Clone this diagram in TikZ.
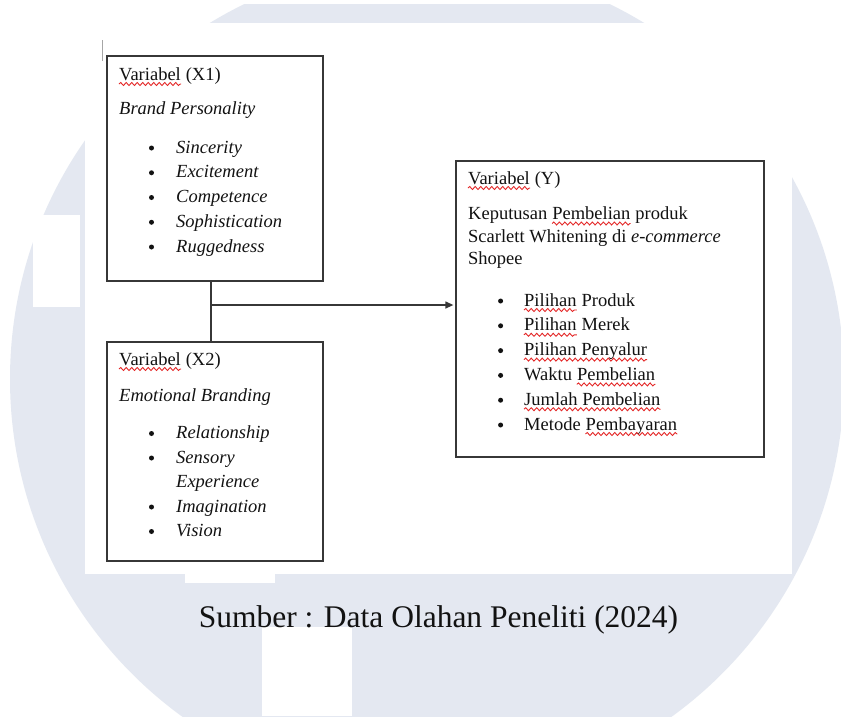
\documentclass[tikz,border=0pt]{standalone}
\usepackage{fontspec}
\setmainfont{Liberation Serif}
\usetikzlibrary{arrows.meta,decorations.pathmorphing}

\definecolor{wmark}{RGB}{228,232,241}
\definecolor{wavered}{RGB}{228,40,40}
\definecolor{ink}{RGB}{18,18,18}
\definecolor{frame}{RGB}{55,55,55}

\begin{document}
\begin{tikzpicture}[x=1pt,y=-1pt,
  txt/.style={anchor=base west, inner sep=0pt, text=ink, font=\fontsize{18.5}{22}\selectfont},
  ittxt/.style={anchor=base west, inner sep=0pt, text=ink, font=\fontsize{18.5}{22}\selectfont\itshape},
  dot/.style={circle, fill=ink, inner sep=0pt, minimum size=5pt},
  varbox/.style={draw=frame, line width=1.3pt, inner sep=0pt},
  link/.style={draw=frame, line width=1.3pt},
  wave/.style={draw=wavered, line width=0.9pt, decorate,
    decoration={snake, amplitude=1.5pt, segment length=5.5pt}}]

\def\sp{4.6pt}% inter-word space of the box text
\newcommand\underwave[1]{\draw[wave] ([yshift=-4pt]#1.base west) -- ([yshift=-4pt]#1.base east);}

\useasboundingbox (0,0) rectangle (841,716);

% watermark backdrop
\fill[white] (0,0) rectangle (841,716);
\begin{scope}
  \clip (0,0) rectangle (841,716);
  \fill[wmark] (427,379) circle[radius=417pt];
\end{scope}
\fill[white] (0,0) rectangle (841,4);
\fill[white] (33,215) rectangle (80,307);
\fill[white] (185,574) rectangle (275,583);
\fill[white] (262,627) rectangle (352,716);
\fill[white] (85,23) rectangle (792,574);
\draw[black!35, line width=0.9pt] (102,40) -- (102,61);

% variable boxes
\node[varbox, minimum width=216pt, minimum height=225pt] (x1box) at (215,168.5) {};
\node[varbox, minimum width=216pt, minimum height=219pt] (x2box) at (215,451.5) {};
\node[varbox, minimum width=308pt, minimum height=296pt] (ybox) at (610,309) {};

% X1 contents
\node[txt] (x1w) at (119,80) {Variabel};
\node[txt] (x1t) at ([xshift=\sp]x1w.base east) {(X1)};
\underwave{x1w}
\node[ittxt] (x1n) at (119,114) {Brand Personality};
\foreach \k/\w [count=\i from 0] in {a/Sincerity,b/Excitement,c/Competence,d/Sophistication,e/Ruggedness}{
  \node[dot] (x1d\k) at (151.5,{148+24.75*\i}) {};
  \node[ittxt] (x1i\k) at (176,{153+24.75*\i}) {\w};
}

% X2 contents
\node[txt] (x2w) at (119,365) {Variabel};
\node[txt] (x2t) at ([xshift=\sp]x2w.base east) {(X2)};
\underwave{x2w}
\node[ittxt] (x2n) at (119,401) {Emotional Branding};
\node[dot] (x2da) at (151.5,433.5) {};
\node[ittxt] (x2ia) at (176,438.5) {Relationship};
\node[dot] (x2db) at (151.5,458) {};
\node[ittxt] (x2ib) at (176,463) {Sensory};
\node[ittxt] (x2ic) at (176,487.5) {Experience};
\node[dot] (x2dd) at (151.5,507) {};
\node[ittxt] (x2id) at (176,512) {Imagination};
\node[dot] (x2de) at (151.5,531.5) {};
\node[ittxt] (x2ie) at (176,536.5) {Vision};

% Y contents
\node[txt] (yw) at (468,184) {Variabel};
\node[txt] (yt) at ([xshift=\sp]yw.base east) {(Y)};
\underwave{yw}
\node[txt] (yn1a) at (468,219.5) {Keputusan};
\node[txt] (yn1b) at ([xshift=\sp]yn1a.base east) {Pembelian};
\node[txt] (yn1c) at ([xshift=\sp]yn1b.base east) {produk};
\underwave{yn1b}
\node[txt] (yn2) at (468,242) {Scarlett Whitening di \textit{e-commerce}};
\node[txt] (yn3) at (468,264.5) {Shopee};

\foreach \k [count=\i from 0] in {a,b,c,d,e,f}{
  \node[dot] (yd\k) at (500.6,{301+24.8*\i}) {};
  \coordinate (yb\k) at (524,{306+24.8*\i});
}
\node[txt] (yia1) at (yba) {Pilihan};
\node[txt] (yia2) at ([xshift=\sp]yia1.base east) {Produk};
\underwave{yia1}
\node[txt] (yib1) at (ybb) {Pilihan};
\node[txt] (yib2) at ([xshift=\sp]yib1.base east) {Merek};
\underwave{yib1}
\node[txt] (yic) at (ybc) {Pilihan Penyalur};
\underwave{yic}
\node[txt] (yid1) at (ybd) {Waktu};
\node[txt] (yid2) at ([xshift=\sp]yid1.base east) {Pembelian};
\underwave{yid2}
\node[txt] (yie) at (ybe) {Jumlah Pembelian};
\underwave{yie}
\node[txt] (yif1) at (ybf) {Metode};
\node[txt] (yif2) at ([xshift=\sp]yif1.base east) {Pembayaran};
\underwave{yif2}

% connectors
\coordinate (jn) at (211,305);
\draw[link] (x1box.south -| jn) -- (x2box.north -| jn);
\draw[link, -{Triangle[length=8pt,width=7pt]}, shorten >=2pt] (jn) -- (jn -| ybox.west);

% source line
\node[anchor=base, inner sep=0pt, text=ink, font=\fontsize{31.5}{38}\selectfont] (src) at (438.5,627) {Sumber : Data Olahan Peneliti (2024)};

\end{tikzpicture}
\end{document}
